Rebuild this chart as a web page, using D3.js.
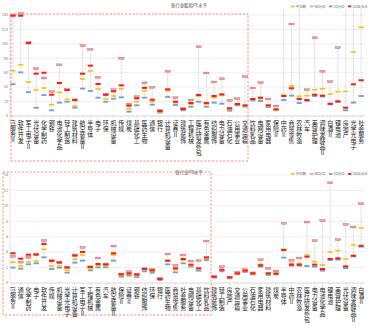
<!DOCTYPE html>
<html><head><meta charset="utf-8">
<script src="https://cdn.jsdelivr.net/npm/d3@7"></script>
<style>
body{margin:0;background:#fff;}
svg{display:block;font-family:"Noto Sans CJK SC","Noto Sans",sans-serif;}
</style></head>
<body><svg id="c" width="387" height="326"></svg>
<script>
// ---------- Data: PE panel ----------
const peCats = ["IT服务Ⅱ","软件开发","军工电子Ⅱ","光伏设备","化学制药","钢铁","电池化学品","轻工制造","建筑材料","航空装备Ⅱ","半导体","电子","环保","机械设备","传媒","煤炭","基础化工","医药生物","通信","银行","计算机设备","证券Ⅱ","建筑装饰","工程机械","医疗研发外包","有色金属","纺织服饰","电力设备","石油石化","公用事业","交通运输","饮料乳品","电网设备","家用电器","保险Ⅱ","中药Ⅱ","商贸零售","农林牧渔","汽车","美容护理","调味发酵品Ⅱ","白酒Ⅱ","锂电池","房地产","光学光电子","社会服务"];
const peP90 = [140,142,102,65.6,52.7,33.7,71,37,22.5,97.5,92.4,53.6,30,36.5,80,16.5,26.8,46,39.8,7.5,62,25.4,10.2,22.2,96,59.6,47.1,51.7,21.7,24,54.5,38.8,46.2,23.6,13.9,160,127.5,160,36.5,108.5,62,47.6,94.7,160,160,160];
const peCur = [139,139,101,58.7,60,29.5,45.7,36,22,58.6,69.8,44.4,29.5,34.2,42.5,14.3,24.5,39,22.6,6.9,37,19.8,9.7,18,29.1,18,27.7,30,10.7,16.6,14.8,23.6,25.4,14.8,9.3,27.7,38.4,23.6,22.2,29.5,28.2,17,20.4,11.5,43.9,49.5];
const peMed = [62.8,71,47,36,38.8,15.7,32.8,23,13.9,51.3,62.4,37.4,23.6,27.7,37.8,9.7,19.8,34.7,19.8,5.5,35,18.5,9.3,16.2,27.7,16.6,25.9,28.6,9.3,16.2,13.9,23,24,14.3,8.3,29.1,41.6,27.3,28.2,36.5,37.8,30.5,33.7,34.2,88.7,123];
const peP10 = [44,60.5,33,11.5,29,7.9,18.5,19.8,11.5,37.9,34.7,25.4,19.8,24,25.9,6,14.8,25.4,15.7,4.6,26.3,15.2,7.9,12.9,19.8,12.9,18.5,17,7.4,14.8,13,21.7,20.8,12.5,7.9,22.2,28.2,18,21,27.7,27,16.2,19.4,7.9,18.5,27.7];
const peTicks = [0,20,40,60,80,100,120,140];

// ---------- Data: PB panel ----------
const pbCats = ["IT服务Ⅱ","通信","化学制药","电子","软件开发","传媒","机械设备","光学光电子","计算机设备","军工电子Ⅱ","工程机械","有色金属","汽车","航空装备Ⅱ","保险Ⅱ","证券Ⅱ","钢铁","纺织服饰","环保","银行","医药生物","商贸零售","社会服务","电网设备","基础化工","饮料乳品","建筑装饰","轻工制造","房地产","交通运输","公用事业","石油石化","家用电器","建筑材料","煤炭","半导体","中药Ⅱ","农林牧渔","医疗研发外包","电力设备","电池化学品","锂电池","美容护理","光伏设备","调味发酵品Ⅱ","白酒Ⅱ"];
const pbP90 = [3.45,2.7,3.33,3.75,5.49,2.95,2.72,2.05,3.63,4.62,2.1,3.24,2.46,4.8,1.18,1.47,1.15,1.85,1.77,0.6,3.76,2.29,3.63,2.85,2.9,5.44,0.85,2.12,0.76,1.38,1.73,1.32,3.03,1.9,1.56,7.74,2.94,3.24,7.9,5.49,8.08,13.0,5.62,7.6,7.26,10.28];
const pbCur = [3.85,3.15,3.67,3.67,5.05,2.85,2.64,2.0,3.55,4.02,2.07,2.46,2.4,3.85,1.12,1.25,1.1,1.81,1.64,0.52,2.9,1.9,3.11,2.38,1.9,3.33,0.82,1.73,0.73,1.25,1.6,1.25,2.29,1.25,1.21,4.28,2.38,2.38,3.41,2.38,1.81,3.11,3.2,2.16,3.54,4.75];
const pbMed = [2.7,2.2,2.72,2.85,4.36,2.2,2.2,1.64,3.07,3.63,1.81,2.29,2.2,3.63,1.0,1.12,0.95,1.75,1.5,0.48,2.85,1.73,2.98,2.25,1.85,3.2,0.78,1.68,0.68,1.17,1.51,1.17,2.42,1.3,1.3,4.36,2.51,2.51,3.63,2.77,2.33,4.02,4.19,3.11,4.93,7.13];
const pbP10 = [2.0,1.85,2.42,2.55,3.33,1.81,1.99,1.34,2.64,2.9,1.64,2.03,2.03,2.9,0.82,0.95,0.78,1.51,1.34,0.39,2.42,1.38,2.55,2.12,1.6,2.98,0.7,1.51,0.6,1.12,1.43,1.1,2.12,1.04,1.12,3.29,2.25,2.25,2.2,2.12,1.6,2.98,3.03,1.94,3.45,4.88];
const pbTicks = [0,2,4,6,8,10,12,14];

const legendNames = ["中位数","90分位","10分位","2025/6/6"];

const svg = d3.select("#c");
const COL = {p90:"#EBA3A3", p90s:"#C65B5B", cur:"#FF1A1A", med:"#FFC000", p10:"#6F9FD8"};

function panel(o){
  const g = svg.append("g");
  const x = d3.scalePoint().domain(o.cats).range([9.1,365]).padding(0.5);
  const y = d3.scaleLinear().domain([0,o.ticks[o.ticks.length-1]]).range([o.y0,o.y1]);
  const clipId = "clip"+o.id;
  svg.append("clipPath").attr("id",clipId).append("rect")
    .attr("x",0).attr("y",o.clipTop).attr("width",387).attr("height",o.y0-o.clipTop+5);
  g.selectAll(".gl").data(o.ticks).join("line")
    .attr("x1",10).attr("x2",365).attr("y1",d=>y(d)).attr("y2",d=>y(d))
    .attr("stroke",d=>d===0?"#BFBFBF":"#E6E6E6").attr("stroke-width",0.6);
  g.append("line").attr("x1",10).attr("x2",10).attr("y1",o.clipTop+2).attr("y2",o.y0)
    .attr("stroke","#D0D0D0").attr("stroke-width",0.6);
  g.selectAll(".yl").data(o.ticks).join("text")
    .attr("x",8).attr("y",d=>y(d)+1.3).attr("text-anchor","end")
    .attr("font-size",3.8).attr("fill","#777").text(d=>d);
  g.selectAll(".xt").data(o.cats).join("line")
    .attr("x1",d=>x(d)).attr("x2",d=>x(d)).attr("y1",o.y0).attr("y2",o.y0+2)
    .attr("stroke","#C8C8C8").attr("stroke-width",0.5);
  // vertical labels (one text each, upright CJK)
  g.selectAll(".xl").data(o.cats).join("text")
    .attr("x",d=>x(d)).attr("y",o.y0+3.5)
    .style("writing-mode","vertical-rl").style("text-orientation","mixed")
    .attr("font-size",6).attr("fill","#222").text(d=>d);
  const pg = g.append("g").attr("clip-path",`url(#${clipId})`);
  const rows = o.cats.map((c,i)=>({c, p90:o.p90[i], cur:o.cur[i], med:o.med[i], p10:o.p10[i]}));
  pg.selectAll(".cn").data(rows).join("line")
    .attr("x1",d=>x(d.c)).attr("x2",d=>x(d.c))
    .attr("y1",d=>y(Math.max(d.p90,d.cur,d.med,d.p10)))
    .attr("y2",d=>y(Math.min(d.p90,d.cur,d.med,d.p10)))
    .attr("stroke","#A6A6A6").attr("stroke-width",0.6).attr("stroke-dasharray","0.8,0.8");
  const mk = (key, fill, stroke, h) => pg.selectAll(".m"+key).data(rows).join("rect")
    .attr("x",d=>x(d.c)-2.6).attr("y",d=>y(d[key])-h/2).attr("width",5.2).attr("height",h)
    .attr("fill",fill).attr("stroke",stroke).attr("stroke-width",stroke?0.4:0);
  mk("p90", COL.p90, COL.p90s, 1.8);
  mk("p10", COL.p10, null, 1.8);
  mk("med", COL.med, null, 1.6);
  mk("cur", COL.cur, null, 2.0);
  svg.append("text").attr("x",189).attr("y",o.titleY).attr("text-anchor","middle")
    .attr("font-size",4.4).attr("fill","#444").text(o.title);
  const lx = [293,312,331,350];
  const lc = [COL.med, COL.p90, COL.p10, COL.cur];
  const lgd = svg.append("g");
  lgd.selectAll("rect").data(legendNames).join("rect")
    .attr("x",(d,i)=>lx[i]-2).attr("y",o.legY-1).attr("width",3.4).attr("height",1.8)
    .attr("fill",(d,i)=>lc[i]);
  lgd.selectAll("text").data(legendNames).join("text")
    .attr("x",(d,i)=>lx[i]+2.4).attr("y",o.legY+1.3)
    .attr("font-size",3.6).attr("fill","#666").text(d=>d);
  svg.append("rect").attr("x",o.box[0]).attr("y",o.box[1]).attr("width",o.box[2]-o.box[0]).attr("height",o.box[3]-o.box[1])
    .attr("fill","none").attr("stroke","#FF7A7A").attr("stroke-width",0.9).attr("stroke-dasharray","2.2,1.6");
}

panel({id:"pe", cats:peCats, p90:peP90, cur:peCur, med:peMed, p10:peP10, ticks:peTicks,
  y0:116, y1:15, clipTop:8.5, title:"各行业股指PE水平", titleY:6.5, legY:6.5, box:[11,14,248,161]});
panel({id:"pb", cats:pbCats, p90:pbP90, cur:pbCur, med:pbMed, p10:pbP10, ticks:pbTicks,
  y0:283, y1:175, clipTop:170, title:"各行业PB水平", titleY:173.5, legY:174, box:[3,172,211,315]});
</script>
</body></html>
